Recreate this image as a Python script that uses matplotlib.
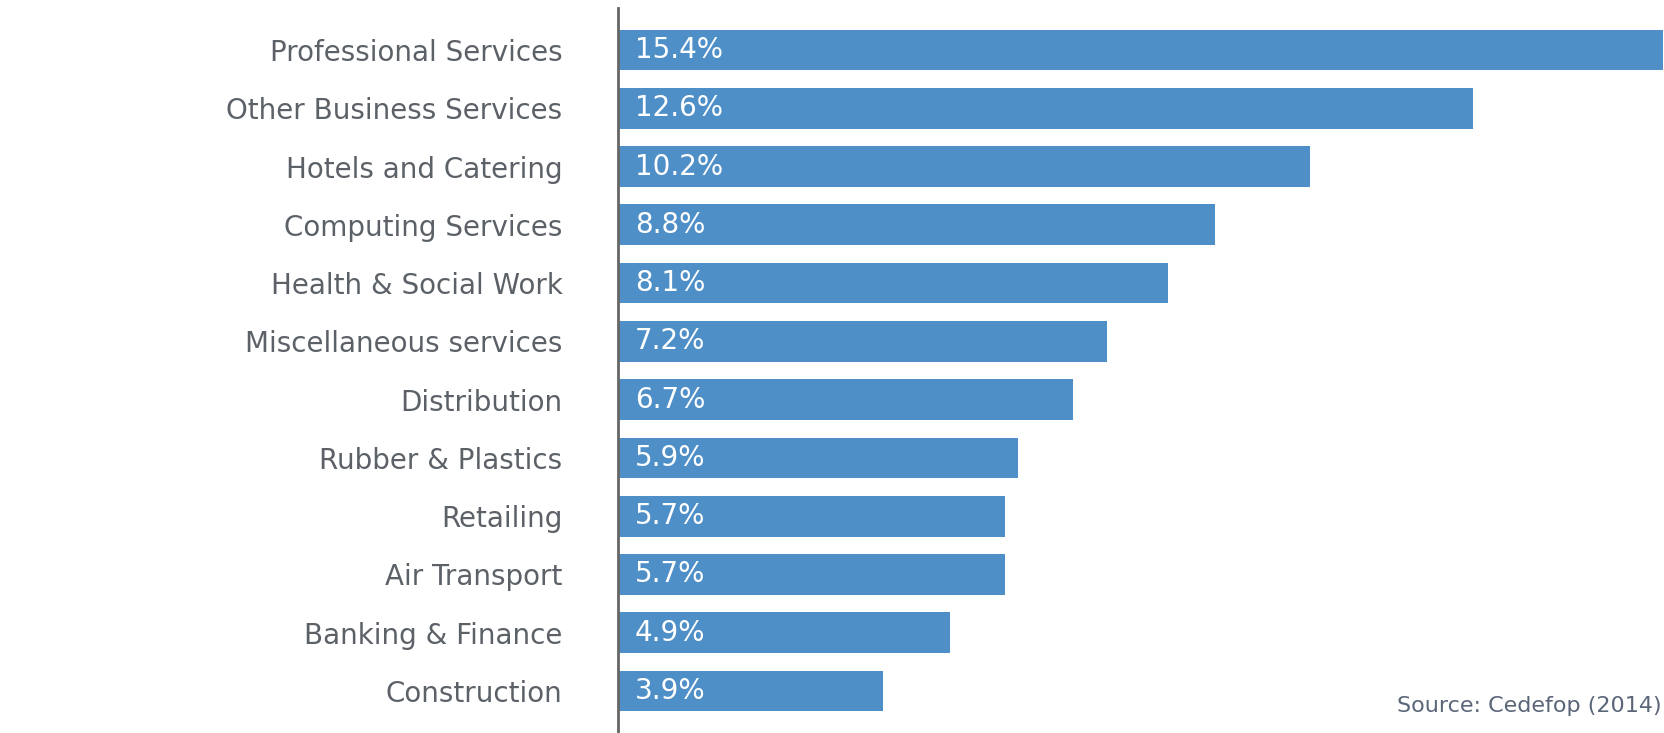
import matplotlib.pyplot as plt

sectors = [
    'Professional Services', 'Other Business Services', 'Hotels and Catering',
    'Computing Services', 'Health & Social Work', 'Miscellaneous services',
    'Distribution', 'Rubber & Plastics', 'Retailing', 'Air Transport',
    'Banking & Finance', 'Construction',
]
shares = [15.4, 12.6, 10.2, 8.8, 8.1, 7.2, 6.7, 5.9, 5.7, 5.7, 4.9, 3.9]
source_note = 'Source: Cedefop (2014)'

bar_color = '#4f8fc8'
text_color = '#5c6168'

fig = plt.figure(figsize=(16.65, 7.33), dpi=100)
ax = fig.add_axes([618 / 1665, 0, 1045 / 1665, 1 - 8 / 733])

ypos = list(range(len(sectors)))
ax.barh(ypos, shares, height=0.70, color=bar_color, zorder=2)

ax.set_xlim(0, 15.4)
ax.set_ylim(len(sectors) - 1 + 0.72, -0.72)

# white value labels at the start of each bar
for y, v in zip(ypos, shares):
    ax.text(0.25, y, f'{v}%', color='white', fontsize=20,
            ha='left', va='center', zorder=3)

ax.set_yticks(ypos)
ax.set_yticklabels(sectors, fontsize=20, color=text_color)
ax.tick_params(axis='y', length=0, pad=40)
ax.set_xticks([])

for side in ['top', 'right', 'bottom']:
    ax.spines[side].set_visible(False)
ax.spines['left'].set_color('#666666')
ax.spines['left'].set_linewidth(2)

fig.text(1662 / 1665, 1 - 706 / 733, source_note, fontsize=16,
         color='#5a6678', ha='right', va='center')

fig.savefig('out.png', dpi=100)
